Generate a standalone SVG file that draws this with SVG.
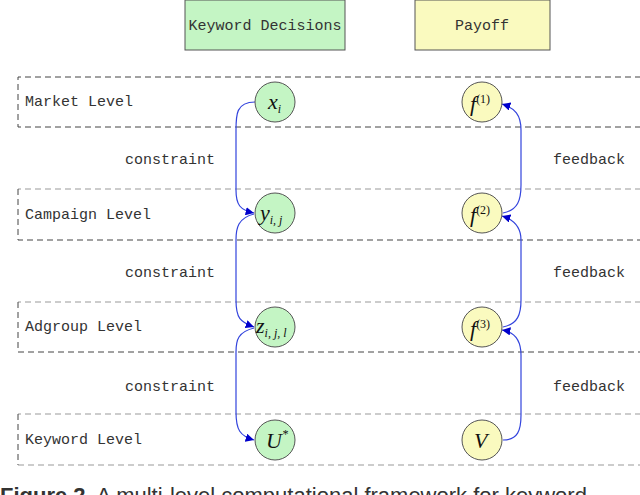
<svg xmlns="http://www.w3.org/2000/svg" width="640" height="495" viewBox="0 0 640 495">
<style>
.lbl{font-family:"Liberation Mono",monospace;font-size:15px;fill:#333}
.band{fill:none;stroke:#444;stroke-dasharray:6,4;stroke-width:1}
.bandl{fill:none;stroke:#999;stroke-dasharray:6,4;stroke-width:1}
.g{fill:#c4f5c4;stroke:#555;stroke-width:1}
.y{fill:#fafabf;stroke:#555;stroke-width:1}
.m{font-family:"Liberation Serif",serif;font-style:italic;font-size:22px;fill:#111}
.s{font-size:12px}
.c{fill:none;stroke:#3344dd;stroke-width:1.2;marker-end:url(#a)}
</style>
<defs><marker id="a" viewBox="0 0 10 10" refX="10" refY="5" markerWidth="7" markerHeight="7" orient="auto-start-reverse"><path d="M0,0L10,5L0,10z" fill="#0000cc"/></marker></defs>
<g id="headers">
<rect x="185" y="0" width="160" height="50" fill="#c4f5c4" stroke="#555"/>
<text class="lbl" x="265" y="30" text-anchor="middle">Keyword Decisions</text>
<rect x="415" y="0" width="135" height="50" fill="#fafabf" stroke="#555"/>
<text class="lbl" x="482" y="30" text-anchor="middle">Payoff</text>
</g>
<g id="bands">
<path class="band" d="M641,77H18V127H641"/>
<path class="bandl" d="M641,189H18"/><path class="band" d="M18,189V240H641"/>
<path class="bandl" d="M641,302H18"/><path class="band" d="M18,302V352H641"/>
<path class="bandl" d="M641,414H18"/><path class="band" d="M18,414V465"/><path class="bandl" d="M18,465H641"/>
<text class="lbl" x="25" y="106">Market Level</text>
<text class="lbl" x="25" y="219">Campaign Level</text>
<text class="lbl" x="25" y="331">Adgroup Level</text>
<text class="lbl" x="25" y="444">Keyword Level</text>
<text class="lbl" x="125" y="164">constraint</text>
<text class="lbl" x="125" y="277">constraint</text>
<text class="lbl" x="125" y="391">constraint</text>
<text class="lbl" x="553" y="164">feedback</text>
<text class="lbl" x="553" y="277">feedback</text>
<text class="lbl" x="553" y="391">feedback</text>
</g>
<g id="connectors">
<path class="c" d="M255,102C236,102 236,115 236,130V190C236,205 240,210 254,213"/>
<path class="c" d="M254,214C238,218 236,228 236,240V300C236,318 240,322 254,327"/>
<path class="c" d="M254,328C238,332 236,340 236,352V412C236,430 240,436 254,440"/>
<path class="c" d="M503,213C518,210 521,200 521,185V130C521,115 515,108 502,104"/>
<path class="c" d="M503,327C518,324 521,314 521,300V240C521,228 515,220 502,216"/>
<path class="c" d="M503,440C518,440 521,430 521,415V355C521,340 515,332 502,330"/>
</g>
<g id="xi"><circle class="g" cx="275" cy="102" r="20"/><text class="m" x="268" y="109">x<tspan class="s" dy="4">i</tspan></text></g>
<g id="yij"><circle class="g" cx="275" cy="213" r="20"/><text class="m" x="260" y="220">y<tspan class="s" dy="4">i, j</tspan></text></g>
<g id="zijl"><circle class="g" cx="275" cy="327" r="20"/><text class="m" x="256" y="333">z<tspan class="s" dy="4">i, j, l</tspan></text></g>
<g id="U"><circle class="g" cx="275" cy="440" r="20"/><text class="m" x="266" y="448">U<tspan class="s" dy="-10">*</tspan></text></g>
<g id="f1"><circle class="y" cx="482" cy="102" r="20"/><text class="m" x="470" y="111">f<tspan style="font-style:normal" class="s" dy="-8">(1)</tspan></text></g>
<g id="f2"><circle class="y" cx="482" cy="213" r="20"/><text class="m" x="470" y="222">f<tspan style="font-style:normal" class="s" dy="-8">(2)</tspan></text></g>
<g id="f3"><circle class="y" cx="482" cy="327" r="20"/><text class="m" x="470" y="336">f<tspan style="font-style:normal" class="s" dy="-8">(3)</tspan></text></g>
<g id="V"><circle class="y" cx="482" cy="440" r="20"/><text class="m" x="474" y="448">V</text></g>
<text x="0" y="503" style="font-family:'Liberation Sans',sans-serif;font-size:22px;fill:#333"><tspan font-weight="bold">Figure 2.</tspan> A multi-level computational framework for keyword</text>
</svg>
